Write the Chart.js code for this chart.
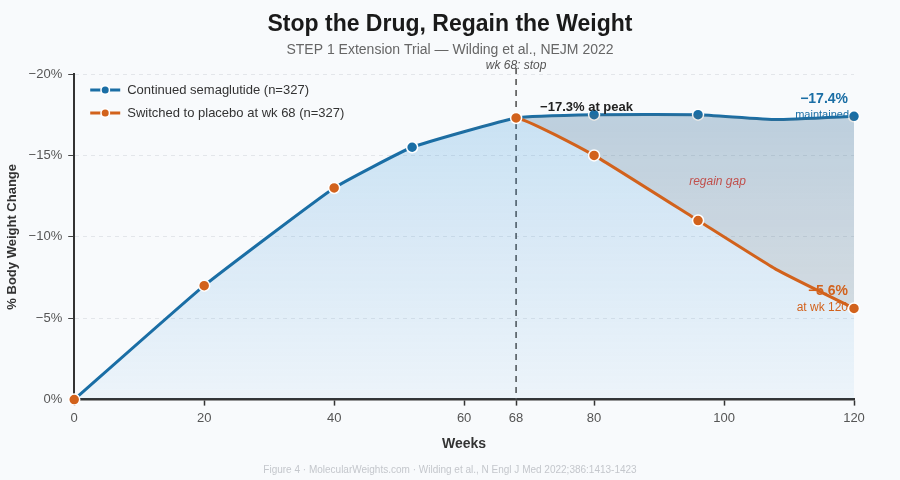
<!DOCTYPE html>
<html>
<head>
<meta charset="utf-8">
<script src="https://cdn.jsdelivr.net/npm/chart.js@4.4.1/dist/chart.umd.min.js"></script>
<style>
  html, body { margin: 0; padding: 0; background: #f8fafc; }
  #wrap { width: 900px; height: 480px; position: relative; }
</style>
</head>
<body>
<div id="wrap"><canvas id="chart"></canvas></div>
<script>
// data (weeks vs % body weight change)
const weeks = [0, 20, 40, 52, 68, 80, 96, 108, 120];
const continuedVals = [0, -7.0, -13.0, -15.5, -17.3, -17.5, -17.5, -17.2, -17.4];
const placeboVals = [0, -7.0, -13.0, -15.5, -17.3, -15.0, -11.0, -8.0, -5.6];
const continuedMarks = [0, 0, 0, 1, 0, 1, 1, 0, 1];
const placeboMarks = [1, 1, 1, 0, 1, 1, 1, 0, 1];
const xTicks = [0, 20, 40, 60, 68, 80, 100, 120];
const yTicks = [-20, -15, -10, -5, 0];
const seriesLabels = ['Continued semaglutide (n=327)', 'Switched to placebo at wk 68 (n=327)'];
const stopWeek = 68;

const BLUE = '#1a6ea5';
const ORANGE = '#d2621c';
const FONT = '"Liberation Sans", Arial, sans-serif';
const minus = (v) => v < 0 ? '\u2212' + Math.abs(v) : String(v);

const pts = (vals) => weeks.map((w, i) => ({ x: w, y: vals[i] }));

const overlay = {
  id: 'overlay',
  beforeDatasetsDraw(chart) {
    const { ctx, chartArea: a, scales: { x } } = chart;
    const px = x.getPixelForValue(stopWeek);
    ctx.save();
    ctx.strokeStyle = '#555';
    ctx.lineWidth = 1.6;
    ctx.setLineDash([6, 5]);
    ctx.beginPath();
    ctx.moveTo(px, a.top - 6);
    ctx.lineTo(px, a.bottom);
    ctx.stroke();
    ctx.restore();
  },
  afterDraw(chart) {
    const { ctx, chartArea: a, scales: { x, y } } = chart;
    ctx.save();
    ctx.textBaseline = 'middle';
    ctx.textAlign = 'center';
    // titles, centred on the page
    ctx.fillStyle = '#1a1a1a';
    ctx.font = 'bold 23px ' + FONT;
    ctx.fillText('Stop the Drug, Regain the Weight', chart.width / 2, 25);
    ctx.fillStyle = '#666';
    ctx.font = '14px ' + FONT;
    ctx.fillText('STEP 1 Extension Trial \u2014 Wilding et al., NEJM 2022', chart.width / 2, 50);

    // stop label
    ctx.fillStyle = '#555';
    ctx.font = 'italic 12px ' + FONT;
    ctx.fillText('wk ' + stopWeek + ': stop', x.getPixelForValue(stopWeek), a.top - 8);

    // legend inside plot
    [BLUE, ORANGE].forEach((c, i) => {
      const ly = a.top + 16 + i * 23;
      const lx = a.left + 16;
      ctx.strokeStyle = c;
      ctx.lineWidth = 3;
      ctx.beginPath(); ctx.moveTo(lx, ly); ctx.lineTo(lx + 30, ly); ctx.stroke();
      ctx.fillStyle = '#fff';
      ctx.beginPath(); ctx.arc(lx + 15, ly, 5, 0, Math.PI * 2); ctx.fill();
      ctx.fillStyle = c;
      ctx.beginPath(); ctx.arc(lx + 15, ly, 3.5, 0, Math.PI * 2); ctx.fill();
      ctx.fillStyle = '#333';
      ctx.font = '13px ' + FONT;
      ctx.textAlign = 'left';
      ctx.fillText(seriesLabels[i], lx + 37, ly);
    });

    const last = weeks.length - 1;
    const ex = x.getPixelForValue(weeks[last]) - 6;
    const peakIdx = weeks.indexOf(stopWeek);
    // peak label
    ctx.fillStyle = '#222';
    ctx.font = 'bold 13px ' + FONT;
    ctx.textAlign = 'left';
    ctx.fillText(minus(continuedVals[peakIdx]) + '% at peak', x.getPixelForValue(stopWeek) + 24, y.getPixelForValue(continuedVals[peakIdx]) - 11);

    // end labels
    ctx.textAlign = 'right';
    ctx.fillStyle = BLUE;
    ctx.font = 'bold 14px ' + FONT;
    const by = y.getPixelForValue(continuedVals[last]);
    ctx.fillText(minus(continuedVals[last]) + '%', ex, by - 17);
    ctx.font = '11px ' + FONT;
    ctx.fillText('maintained', ex + 1, by - 1);

    ctx.fillStyle = ORANGE;
    const oy = y.getPixelForValue(placeboVals[last]);
    ctx.font = 'bold 14px ' + FONT;
    ctx.fillText(minus(placeboVals[last]) + '%', ex, oy - 17);
    ctx.font = '12px ' + FONT;
    ctx.fillText('at wk ' + weeks[last], ex, oy - 1);

    ctx.fillStyle = '#c0504d';
    ctx.font = 'italic 12px ' + FONT;
    ctx.textAlign = 'center';
    ctx.fillText('regain gap', x.getPixelForValue(99), y.getPixelForValue(-13.4));

    // footer
    ctx.fillStyle = '#c4c7cc';
    ctx.font = '10px ' + FONT;
    ctx.fillText('Figure 4 \u00b7 MolecularWeights.com \u00b7 Wilding et al., N Engl J Med 2022;386:1413-1423', chart.width / 2, 470);
    ctx.restore();
  }
};

new Chart(document.getElementById('chart'), {
  type: 'line',
  data: {
    datasets: [
      {
        label: seriesLabels[0],
        data: pts(continuedVals),
        borderColor: BLUE,
        borderWidth: 3,
        tension: 0.12,
        order: 2,
        clip: false,
        fill: 'origin',
        backgroundColor: (c) => {
          const a = c.chart.chartArea;
          if (!a) return 'rgba(33,137,214,0.12)';
          const g = c.chart.ctx.createLinearGradient(0, a.top, 0, a.bottom);
          g.addColorStop(0, 'rgba(33,137,214,0.24)');
          g.addColorStop(1, 'rgba(33,137,214,0.05)');
          return g;
        },
        pointRadius: continuedMarks.map(m => m ? 5.5 : 0),
        pointBackgroundColor: BLUE,
        pointBorderColor: '#fff',
        pointBorderWidth: 1.5,
      },
      {
        label: seriesLabels[1],
        data: pts(placeboVals),
        borderColor: ORANGE,
        borderWidth: 3,
        tension: 0.12,
        order: 1,
        clip: false,
        fill: { target: 0 },
        backgroundColor: 'rgba(122,110,92,0.15)',
        segment: { borderColor: (s) => s.p0.parsed.x < stopWeek ? 'transparent' : ORANGE },
        pointRadius: placeboMarks.map(m => m ? 5.5 : 0),
        pointBackgroundColor: ORANGE,
        pointBorderColor: '#fff',
        pointBorderWidth: 1.5,
      }
    ]
  },
  options: {
    responsive: true,
    maintainAspectRatio: false,
    animation: false,
    layout: { padding: { left: 3, right: 46, bottom: 23, top: 74 } },
    plugins: {
      legend: { display: false },
      tooltip: { enabled: false }
    },
    scales: {
      x: {
        type: 'linear',
        min: 0, max: 120,
        afterBuildTicks: (s) => { s.ticks = xTicks.map(v => ({ value: v })); },
        ticks: { color: '#555', font: { family: FONT, size: 13 }, padding: 5, maxRotation: 0 },
        grid: { drawOnChartArea: false, drawTicks: true, tickLength: 6, tickColor: '#333', tickWidth: 1.5 },
        border: { color: '#333', width: 2.5 },
        title: { display: true, text: 'Weeks', color: '#333', font: { family: FONT, size: 14, weight: 'bold' }, padding: { top: 5, bottom: 4 } }
      },
      y: {
        min: -20, max: 0,
        reverse: true,
        afterBuildTicks: (s) => { s.ticks = yTicks.map(v => ({ value: v })); },
        ticks: { color: '#555', font: { family: FONT, size: 13 }, padding: 6, callback: (v) => minus(v) + '%' },
        grid: { color: '#e3e6ea', tickBorderDash: [], tickColor: '#444', tickLength: 6, lineWidth: 1 },
        border: { color: '#333', width: 2, dash: [4, 4] },
        title: { display: true, text: '% Body Weight Change', color: '#333', font: { family: FONT, size: 13, weight: 'bold' }, padding: { top: 2, bottom: 2 } }
      }
    }
  },
  plugins: [overlay]
});
</script>
</body>
</html>
